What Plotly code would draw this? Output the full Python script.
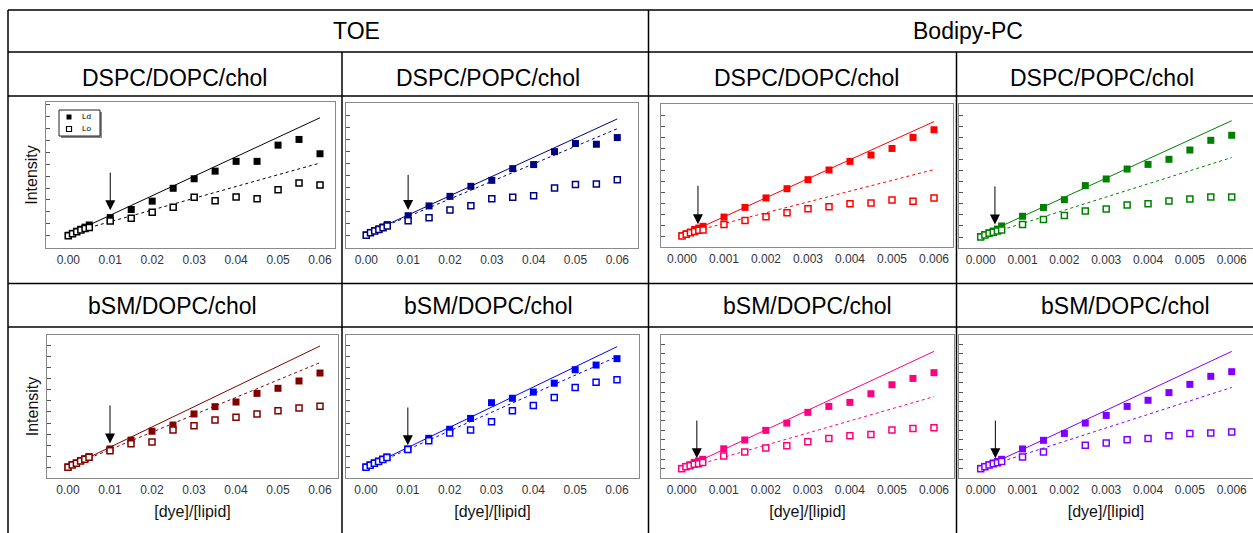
import plotly.graph_objects as go

W, H = 1253, 533

# ---------------- data ----------------
x_toe = [0, 0.001, 0.002, 0.003, 0.004, 0.005, 0.01, 0.015, 0.02, 0.025,
         0.03, 0.035, 0.04, 0.045, 0.05, 0.055, 0.06]
x_bod = [0, 0.0001, 0.0002, 0.0003, 0.0004, 0.0005, 0.001, 0.0015, 0.002,
         0.0025, 0.003, 0.0035, 0.004, 0.0045, 0.005, 0.0055, 0.006]
fitx_toe = [0.005, 0.06]
fitx_bod = [0.0005, 0.006]

toe_dopc_ld = [0.02, 0.10, 0.19, 0.27, 0.36, 0.45, 0.76, 1.10, 1.45, 1.99, 2.39, 2.71, 3.12, 3.12, 3.80, 4.04, 3.44]
toe_dopc_lo = [0, 0.08, 0.17, 0.24, 0.30, 0.34, 0.62, 0.73, 0.98, 1.19, 1.61, 1.47, 1.62, 1.55, 1.93, 2.21, 2.13]
toe_dopc_fit_ld = [0.45, 4.95]
toe_dopc_fit_lo = [0.34, 3.05]

toe_popc_ld = [0.02, 0.12, 0.20, 0.27, 0.35, 0.45, 0.82, 1.23, 1.63, 2.05, 2.30, 2.79, 2.96, 3.50, 3.84, 3.81, 4.09]
toe_popc_lo = [0, 0.11, 0.18, 0.24, 0.32, 0.39, 0.61, 0.73, 1.06, 1.24, 1.53, 1.59, 1.66, 1.98, 2.13, 2.15, 2.32]
toe_popc_fit_ld = [0.45, 4.87]
toe_popc_fit_lo = [0.42, 4.46]

bod_dopc_ld = [0.02, 0.10, 0.18, 0.30, 0.36, 0.44, 0.86, 1.30, 1.73, 2.15, 2.56, 3.00, 3.39, 3.68, 3.98, 4.48, 4.83]
bod_dopc_lo = [0, 0.08, 0.15, 0.20, 0.26, 0.27, 0.52, 0.70, 0.88, 1.06, 1.24, 1.33, 1.47, 1.50, 1.64, 1.58, 1.73]
bod_dopc_fit_ld = [0.44, 5.20]
bod_dopc_fit_lo = [0.32, 3.02]

bod_popc_ld = [0.02, 0.11, 0.19, 0.27, 0.36, 0.50, 0.94, 1.34, 1.69, 2.33, 2.63, 3.08, 3.29, 3.52, 3.94, 4.38, 4.61]
bod_popc_lo = [0, 0.09, 0.17, 0.21, 0.27, 0.32, 0.57, 0.79, 0.97, 1.18, 1.27, 1.45, 1.51, 1.63, 1.72, 1.81, 1.81]
bod_popc_fit_ld = [0.50, 5.27]
bod_popc_fit_lo = [0.32, 3.60]

toe_bsm1_ld = [0.02, 0.13, 0.20, 0.31, 0.39, 0.48, 0.83, 1.23, 1.63, 1.91, 2.41, 2.74, 2.95, 3.34, 3.57, 3.90, 4.26]
toe_bsm1_lo = [0, 0.11, 0.18, 0.29, 0.36, 0.45, 0.75, 1.07, 1.14, 1.69, 1.88, 2.14, 2.26, 2.41, 2.56, 2.68, 2.76]
toe_bsm1_fit_ld = [0.45, 5.48]
toe_bsm1_fit_lo = [0.41, 4.73]

toe_bsm2_ld = [0.02, 0.11, 0.20, 0.28, 0.37, 0.47, 0.83, 1.31, 1.72, 2.21, 2.92, 3.12, 3.40, 3.80, 4.41, 4.62, 4.91]
toe_bsm2_lo = [0, 0.09, 0.18, 0.26, 0.35, 0.44, 0.81, 1.20, 1.55, 1.69, 2.06, 2.55, 2.79, 3.15, 3.61, 3.84, 3.96]
toe_bsm2_fit_ld = [0.44, 5.45]
toe_bsm2_fit_lo = [0.39, 5.00]

bod_bsm1_ld = [0.02, 0.12, 0.21, 0.33, 0.40, 0.49, 1.04, 1.50, 2.00, 2.38, 2.94, 3.25, 3.46, 3.91, 4.38, 4.71, 5.01]
bod_bsm1_lo = [0, 0.10, 0.16, 0.23, 0.26, 0.33, 0.66, 0.87, 1.08, 1.20, 1.41, 1.58, 1.72, 1.79, 2.02, 2.10, 2.14]
bod_bsm1_fit_ld = [0.49, 6.12]
bod_bsm1_fit_lo = [0.28, 3.76]

bod_bsm2_ld = [0.02, 0.12, 0.21, 0.30, 0.38, 0.49, 1.03, 1.48, 1.84, 2.38, 2.78, 3.25, 3.57, 3.97, 4.40, 4.82, 5.06]
bod_bsm2_lo = [0, 0.10, 0.19, 0.26, 0.31, 0.37, 0.61, 0.87, None, 1.23, 1.34, 1.51, 1.58, 1.72, 1.83, 1.86, 1.91]
bod_bsm2_fit_ld = [0.49, 6.12]
bod_bsm2_fit_lo = [0.37, 4.24]

# arrows: x position, tail y, tip y
arrow_x = [0.01, 0.01, 0.00038, 0.00034, 0.01, 0.01, 0.00036, 0.00035]
arrow_tail = [2.71, 2.59, 2.35, 2.36, 2.86, 2.77, 2.59, 2.59]
arrow_tip = [1.07, 1.06, 0.53, 0.57, 1.08, 1.00, 0.54, 0.54]

col_headers = ["TOE", "Bodipy-PC"]
row1_headers = ["DSPC/DOPC/chol", "DSPC/POPC/chol", "DSPC/DOPC/chol", "DSPC/POPC/chol"]
row2_headers = ["bSM/DOPC/chol", "bSM/DOPC/chol", "bSM/DOPC/chol", "bSM/DOPC/chol"]
series_names = ["Ld", "Lo"]
x_title = "[dye]/[lipid]"
y_title = "Intensity"

panels_data = [
    (x_toe, toe_dopc_ld, toe_dopc_lo, fitx_toe, toe_dopc_fit_ld, toe_dopc_fit_lo),
    (x_toe, toe_popc_ld, toe_popc_lo, fitx_toe, toe_popc_fit_ld, toe_popc_fit_lo),
    (x_bod, bod_dopc_ld, bod_dopc_lo, fitx_bod, bod_dopc_fit_ld, bod_dopc_fit_lo),
    (x_bod, bod_popc_ld, bod_popc_lo, fitx_bod, bod_popc_fit_ld, bod_popc_fit_lo),
    (x_toe, toe_bsm1_ld, toe_bsm1_lo, fitx_toe, toe_bsm1_fit_ld, toe_bsm1_fit_lo),
    (x_toe, toe_bsm2_ld, toe_bsm2_lo, fitx_toe, toe_bsm2_fit_ld, toe_bsm2_fit_lo),
    (x_bod, bod_bsm1_ld, bod_bsm1_lo, fitx_bod, bod_bsm1_fit_ld, bod_bsm1_fit_lo),
    (x_bod, bod_bsm2_ld, bod_bsm2_lo, fitx_bod, bod_bsm2_fit_ld, bod_bsm2_fit_lo),
]

# ---------------- styling / layout ----------------
colors = ["#000000", "#000080", "#ff0000", "#008000",
          "#800000", "#0000ff", "#ff0080", "#8000ff"]

# panel frames in pixels (x0, x1, y0(top), y1(bottom))
frames = [
    (46, 335, 102, 248), (346, 638, 103, 248), (661, 953, 104, 247), (959, 1253, 104, 248),
    (47, 338, 335, 478), (346, 639, 335, 478), (661, 954, 335, 478), (959, 1253, 335, 478),
]
xranges = [
    [-0.005316, 0.063576], [-0.004853, 0.064949], [-0.0005, 0.006452], [-0.000519, 0.006509],
    [-0.005, 0.064286], [-0.004781, 0.06526], [-0.000492, 0.006476], [-0.000519, 0.006509],
]
yranges = [
    [-0.516, 5.611], [-0.531, 5.536], [-0.5, 6.0], [-0.498, 6.026],
    [-0.483, 5.978], [-0.483, 5.978], [-0.485, 6.975], [-0.485, 6.975],
]

FONT = "Arial, Liberation Sans, sans-serif"


def px(x):
    return x / W


def py(y):
    return 1 - y / H


fig = go.Figure()
layout = dict(
    width=W, height=H, margin=dict(l=0, r=0, t=0, b=0),
    paper_bgcolor="white", plot_bgcolor="white",
    font=dict(family=FONT, color="#222222"),
    showlegend=False,
)
annotations = []
shapes = []

for i, (xs, ld, lo, fx, fld, flo) in enumerate(panels_data):
    n = i + 1
    xa = "x" if n == 1 else f"x{n}"
    ya = "y" if n == 1 else f"y{n}"
    c = colors[i]
    bod = xs is x_bod
    fig.add_trace(go.Scatter(x=fx, y=fld, mode="lines", xaxis=xa, yaxis=ya,
                             line=dict(color=c, width=1), hoverinfo="skip"))
    fig.add_trace(go.Scatter(x=fx, y=flo, mode="lines", xaxis=xa, yaxis=ya,
                             line=dict(color=c, width=1, dash="3px,3px"), hoverinfo="skip"))
    fig.add_trace(go.Scatter(x=xs, y=ld, mode="markers", xaxis=xa, yaxis=ya, name=series_names[0],
                             marker=dict(symbol="square", size=7, color=c, line=dict(width=0))))
    fig.add_trace(go.Scatter(x=xs, y=lo, mode="markers", xaxis=xa, yaxis=ya, name=series_names[1],
                             marker=dict(symbol="square", size=6, color="white",
                                         line=dict(width=1.5, color=c))))

    x0, x1, y0, y1 = frames[i]
    right_edge = x1 >= W
    xaxis = dict(
        domain=[px(x0), min(px(x1), 1.0)], anchor=ya, range=xranges[i],
        showgrid=False, zeroline=False, showline=True, linecolor="#8a8a8a", linewidth=1.3,
        mirror=True, ticks="", tick0=0, dtick=0.001 if bod else 0.01,
        tickformat=".3f" if bod else ".2f",
        tickfont=dict(size=12, family=FONT, color="#333340"),
    )
    yaxis = dict(
        domain=[py(y1), py(y0)], anchor=xa, range=yranges[i],
        showgrid=False, zeroline=False, showline=True, linecolor="#8a8a8a", linewidth=1.3,
        mirror=not right_edge, ticks="inside", ticklen=4, tickwidth=1, tickcolor="#555555",
        tick0=0, dtick=0.5, showticklabels=False,
    )
    if n in (1, 5):
        yaxis["title"] = dict(text=y_title, font=dict(size=16, family=FONT, color="#111111"),
                              standoff=3)
    if n >= 5:
        xaxis["title"] = dict(text=x_title, font=dict(size=16, family=FONT, color="#111111"),
                              standoff=10)
    layout["xaxis" if n == 1 else f"xaxis{n}"] = xaxis
    layout["yaxis" if n == 1 else f"yaxis{n}"] = yaxis

    annotations.append(dict(
        x=arrow_x[i], y=arrow_tip[i], ax=arrow_x[i], ay=arrow_tail[i],
        xref=xa, yref=ya, axref=xa, ayref=ya, text="", showarrow=True,
        arrowhead=2, arrowsize=2, arrowwidth=1, arrowcolor="#000000", standoff=0,
    ))

# legend box in panel 1 (Origin-style)
shapes.append(dict(type="rect", xref="paper", yref="paper", x0=px(61), x1=px(102),
                   y0=py(138), y1=py(112), fillcolor="#888888", line=dict(width=0)))
shapes.append(dict(type="rect", xref="paper", yref="paper", x0=px(59), x1=px(100),
                   y0=py(136), y1=py(110), fillcolor="white", line=dict(color="#222222", width=1)))
shapes.append(dict(type="rect", xref="paper", yref="paper", x0=px(66.5), x1=px(71.5),
                   y0=py(119.5), y1=py(114.5), fillcolor="#000000", line=dict(width=0)))
shapes.append(dict(type="rect", xref="paper", yref="paper", x0=px(66.5), x1=px(71.5),
                   y0=py(131.5), y1=py(126.5), fillcolor="white",
                   line=dict(color="#000000", width=1.2)))
for name, yy in zip(series_names, [117, 129]):
    annotations.append(dict(x=px(80), y=py(yy), xref="paper", yref="paper", text=name,
                            showarrow=False, xanchor="left", yanchor="middle",
                            font=dict(size=8, family=FONT, color="#000000")))

# table header texts
hdr_font = dict(size=23, family=FONT, color="#000000")
for txt, cx in zip(col_headers, [357, 968]):
    annotations.append(dict(x=px(cx), y=py(31), xref="paper", yref="paper", text=txt,
                            showarrow=False, font=hdr_font, xanchor="center", yanchor="middle"))
for txt, cx in zip(row1_headers, [174, 488, 807, 1102]):
    annotations.append(dict(x=px(cx), y=py(78), xref="paper", yref="paper", text=txt,
                            showarrow=False, font=hdr_font, xanchor="center", yanchor="middle"))
for txt, cx in zip(row2_headers, [172, 488, 808, 1125]):
    annotations.append(dict(x=px(cx), y=py(306), xref="paper", yref="paper", text=txt,
                            showarrow=False, font=hdr_font, xanchor="center", yanchor="middle"))

# table grid lines
line_style = dict(color="#000000", width=1.5)
for yy in [10, 52, 96, 283.5, 327]:
    shapes.append(dict(type="line", xref="paper", yref="paper", x0=px(8), x1=1.0,
                       y0=py(yy), y1=py(yy), line=line_style, layer="above"))
shapes.append(dict(type="line", xref="paper", yref="paper", x0=px(8), x1=px(8),
                   y0=py(10), y1=0, line=line_style))
shapes.append(dict(type="line", xref="paper", yref="paper", x0=px(648.5), x1=px(648.5),
                   y0=py(10), y1=0, line=line_style))
for xx in [342, 956.5]:
    shapes.append(dict(type="line", xref="paper", yref="paper", x0=px(xx), x1=px(xx),
                       y0=py(52), y1=0, line=line_style))

layout["annotations"] = annotations
layout["shapes"] = shapes
fig.update_layout(**layout)

fig.write_html("out.html")
